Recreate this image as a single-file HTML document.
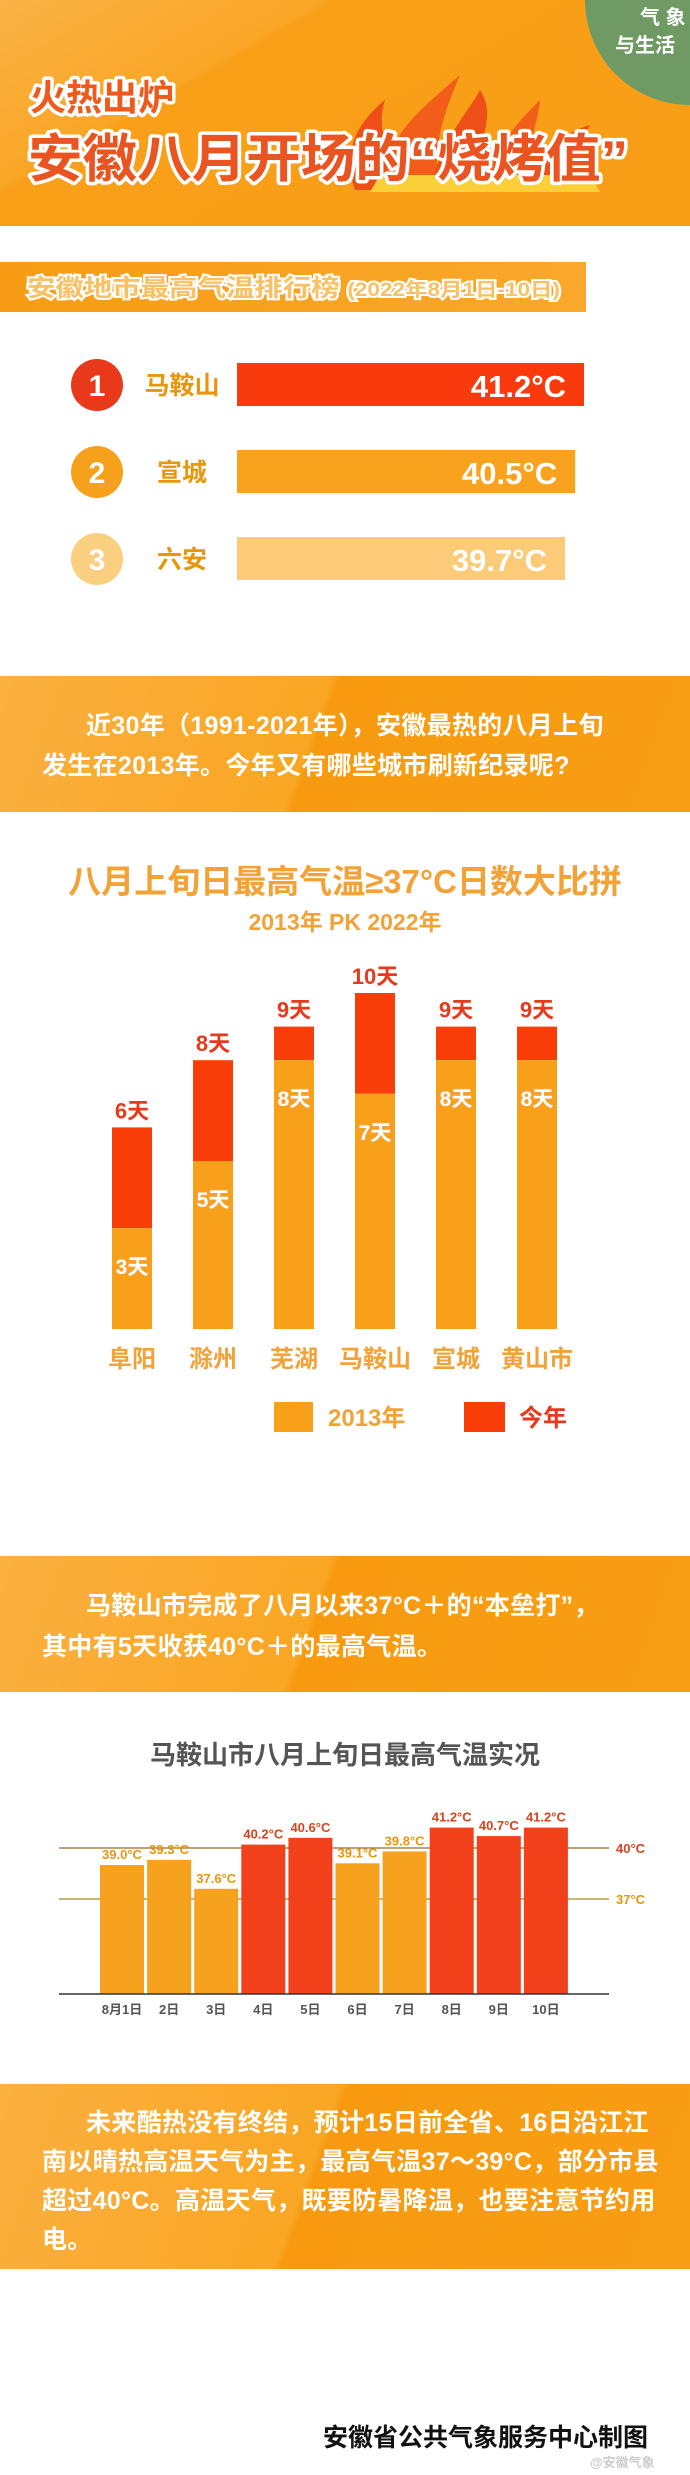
<!DOCTYPE html>
<html><head><meta charset="utf-8">
<style>
*{margin:0;padding:0;box-sizing:border-box}
body{width:690px;height:2475px;background:#fff;position:relative;overflow:hidden;font-family:"Liberation Sans","Noto Sans CJK SC",sans-serif;font-weight:bold}
.abs{position:absolute}
.banner{position:absolute;left:0;width:690px;background:linear-gradient(110deg,#fbb040 0%,#f9a623 45%,#f79a10 46%,#f89e14 100%)}
.btxt{position:absolute;color:#fff;font-size:25px;white-space:nowrap;letter-spacing:0.3px}
</style></head><body>

<div class="abs" style="left:0;top:0;width:690px;height:226px;background:linear-gradient(150deg,#fbb347 0%,#f9a626 30%,#f99f18 31%,#f89e16 100%)"></div>
<svg class="abs" style="left:0;top:0" width="690" height="230">
  <circle cx="690" cy="0" r="105" fill="#6f9a63"/>
  <text x="640" y="24" font-size="20" fill="#fff" font-family="Liberation Sans,Noto Sans CJK SC,sans-serif">气 象</text>
  <text x="615" y="52" font-size="20" fill="#fff" font-family="Liberation Sans,Noto Sans CJK SC,sans-serif">与生活</text>
  <g fill="#ee4a17" opacity="0.95">
    <path d="M355 190 C340 150 360 120 385 100 C375 130 390 150 400 190Z"/>
    <path d="M385 190 C380 140 420 110 460 75 C445 110 430 150 440 190Z" fill="#f25a1a"/>
    <path d="M430 190 C440 140 470 110 480 90 C500 120 470 150 480 190Z"/>
    <path d="M480 190 C500 140 520 120 540 100 C535 140 520 160 530 190Z" fill="#f25a1a"/>
    <path d="M520 190 C540 150 570 130 590 125 C575 150 570 170 580 190Z"/>
    <path d="M370 192 L600 192 L590 175 L380 175Z" fill="#fbd23a"/>
  </g>
  <g font-family="Liberation Sans,Noto Sans CJK SC,sans-serif" font-weight="bold" stroke="#fff" stroke-width="7" paint-order="stroke" stroke-linejoin="round">
    <text x="30" y="110" font-size="36" fill="#ee5a1c">火热出炉</text>
    <text x="28" y="177" font-size="52" fill="#ea5420" textLength="600" lengthAdjust="spacingAndGlyphs">安徽八月开场的“烧烤值”</text>
  </g>
</svg>

<div class="abs" style="left:0;top:262px;width:586px;height:50px;background:linear-gradient(90deg,#f79c14,#f9a82c)"></div>
<svg class="abs" style="left:0;top:262px" width="600" height="50">
  <text x="27" y="34" font-size="24" fill="#f8c165" stroke="#fff" stroke-width="4" paint-order="stroke" font-weight="bold" font-family="Liberation Sans,Noto Sans CJK SC,sans-serif" textLength="533" lengthAdjust="spacingAndGlyphs">安徽地市最高气温排行榜 <tspan font-size="19">(2022年8月1日-10日)</tspan></text>
</svg>
<svg id="rank" class="abs" style="left:0;top:340px" width="690" height="260"></svg>

<div class="banner" style="top:676px;height:136px">
  <div class="btxt" style="left:86px;top:30px">近30年（1991-2021年），安徽最热的八月上旬</div>
  <div class="btxt" style="left:42px;top:70px">发生在2013年。今年又有哪些城市刷新纪录呢?</div>
</div>

<div class="abs" style="left:0;width:690px;top:855px;text-align:center;font-size:33px;color:#f2a236">八月上旬日最高气温≥37°C日数大比拼</div>
<div class="abs" style="left:0;width:690px;top:903px;text-align:center;font-size:23px;color:#f2a236">2013年 PK 2022年</div>
<svg id="days" class="abs" style="left:0;top:960px" width="690" height="500"></svg>

<div class="banner" style="top:1556px;height:136px">
  <div class="btxt" style="left:86px;top:30px">马鞍山市完成了八月以来37°C＋的“本垒打”，</div>
  <div class="btxt" style="left:42px;top:71px">其中有5天收获40°C＋的最高气温。</div>
</div>

<div class="abs" style="left:0;width:690px;top:1735px;text-align:center;font-size:26px;color:#555">马鞍山市八月上旬日最高气温实况</div>
<svg id="temps" class="abs" style="left:0;top:1780px" width="690" height="250"></svg>

<div class="banner" style="top:2084px;height:185px">
  <div class="btxt" style="left:86px;top:19px">未来酷热没有终结，预计15日前全省、16日沿江江</div>
  <div class="btxt" style="left:42px;top:58px">南以晴热高温天气为主，最高气温37～39°C，部分市县</div>
  <div class="btxt" style="left:42px;top:97px">超过40°C。高温天气，既要防暑降温，也要注意节约用</div>
  <div class="btxt" style="left:42px;top:136px">电。</div>
</div>

<div class="abs" style="left:323px;top:2418px;font-size:25px;color:#111">安徽省公共气象服务中心制图</div>
<div class="abs" style="left:590px;top:2452px;font-size:13px;color:#ccc">@安徽气象</div>

<script>
const NS='http://www.w3.org/2000/svg';
function mk(p,t,a,txt){const e=document.createElementNS(NS,t);for(const k in a)e.setAttribute(k,a[k]);if(txt!==undefined)e.textContent=txt;p.appendChild(e);return e;}
const FF='Liberation Sans,Noto Sans CJK SC,sans-serif';

// ranking
const rankCities=['马鞍山','宣城','六安'];
const rankValues=[41.2,40.5,39.7];
const rankLabels=['41.2°C','40.5°C','39.7°C'];
(function(){
 const s=document.getElementById('rank');
 const fills=['#f83a0c','#f9a21e','#fbcb78'],circ=['#e8391a','#f5a11c','#fbcf80'];
 const xr=v=>62+12.67*v;
 rankCities.forEach((c,i)=>{
  const cy=45+i*87;
  const ci=mk(s,'circle',{cx:97,cy:cy,r:26,fill:circ[i]});
  
  mk(s,'text',{x:97,y:cy+11,'text-anchor':'middle','font-size':30,fill:'#fff','font-family':FF,'font-weight':'bold'},String(i+1));
  const lb=mk(s,'text',{x:182,y:cy+9,'text-anchor':'middle','font-size':25,fill:'#e8970c','font-family':FF,'font-weight':'bold'},c);
  
  const b=mk(s,'rect',{x:237,y:cy-22,width:xr(rankValues[i])-237,height:43,fill:fills[i]});
  
  mk(s,'text',{x:xr(rankValues[i])-18,y:cy+12,'text-anchor':'end','font-size':31,fill:'#fff','font-family':FF,'font-weight':'bold'},rankLabels[i]);
 });
})();

// days chart
const dayCities=['阜阳','滁州','芜湖','马鞍山','宣城','黄山市'];
const days2013=[3,5,8,7,8,8];
const days2022=[6,8,9,10,9,9];
(function(){
 const s=document.getElementById('days');
 const base=369,per=33.6,y=v=>base-v*per,cx=i=>132+i*81,w=40;
 dayCities.forEach((c,i)=>{
  const r1=mk(s,'rect',{x:cx(i)-w/2,y:y(days2022[i]),width:w,height:(days2022[i]-days2013[i])*per,fill:'#f83d08'});
  
  const r2=mk(s,'rect',{x:cx(i)-w/2,y:y(days2013[i]),width:w,height:days2013[i]*per,fill:'#f9a01a'});
  
  mk(s,'text',{x:cx(i),y:y(days2022[i])-9,'text-anchor':'middle','font-size':22,fill:'#e8391a',stroke:'#fff','stroke-width':4,'paint-order':'stroke','font-family':FF,'font-weight':'bold'},days2022[i]+'天');
  mk(s,'text',{x:cx(i),y:y(days2013[i])+46,'text-anchor':'middle','font-size':21,fill:'#fff',stroke:'#f3a33a','stroke-width':2,'paint-order':'stroke','font-family':FF,'font-weight':'bold'},days2013[i]+'天');
  const t=mk(s,'text',{x:cx(i),y:407,'text-anchor':'middle','font-size':24,fill:'#f2a236','font-family':FF,'font-weight':'bold'},c);
  
 });
 const l1=mk(s,'rect',{x:274,y:442,width:39,height:30,fill:'#f9a01a'});
 
 mk(s,'text',{x:328,y:466,'font-size':24,fill:'#f2a236','font-family':FF,'font-weight':'bold'},'2013年');
 const l2=mk(s,'rect',{x:464,y:442,width:41,height:30,fill:'#f83d08'});
 
 mk(s,'text',{x:519,y:466,'font-size':24,fill:'#e8391a','font-family':FF,'font-weight':'bold'},'今年');
})();

// temperature chart
const tempDays=['8月1日','2日','3日','4日','5日','6日','7日','8日','9日','10日'];
const tempValues=[39.0,39.3,37.6,40.2,40.6,39.1,39.8,41.2,40.7,41.2];
const tempLabels=['39.0°C','39.3°C','37.6°C','40.2°C','40.6°C','39.1°C','39.8°C','41.2°C','40.7°C','41.2°C'];
(function(){
 const s=document.getElementById('temps');
 const base=214,y=v=>68-(v-40)*17,lefts=i=>100+i*47.1,w=44;
 [40,37].forEach(v=>{
  const ln=mk(s,'line',{x1:59,x2:609,y1:y(v),y2:y(v),stroke:v===40?'#9a6a20':'#a48a2a','stroke-width':1.2});
  
  mk(s,'text',{x:616,y:y(v)+5,'font-size':13,fill:v===40?'#d8421c':'#e8960c','font-family':FF,'font-weight':'bold'},v+'°C');
 });
 tempValues.forEach((v,i)=>{
  const hot=v>=40;
  const b=mk(s,'rect',{x:lefts(i),y:y(v),width:w,height:base-y(v),fill:hot?'#f2401a':'#f7a21e'});
  
  mk(s,'text',{x:lefts(i)+w/2,y:y(v)-6,'text-anchor':'middle','font-size':13,fill:hot?'#d8421c':'#e8960c','font-family':FF,'font-weight':'bold'},tempLabels[i]);
  mk(s,'text',{x:lefts(i)+w/2,y:base+20,'text-anchor':'middle','font-size':13,fill:'#555','font-family':FF,'font-weight':'bold'},tempDays[i]);
 });
 const ax=mk(s,'line',{x1:59,x2:609,y1:base,y2:base,stroke:'#333','stroke-width':1.5});
 
})();
</script>
</body></html>
